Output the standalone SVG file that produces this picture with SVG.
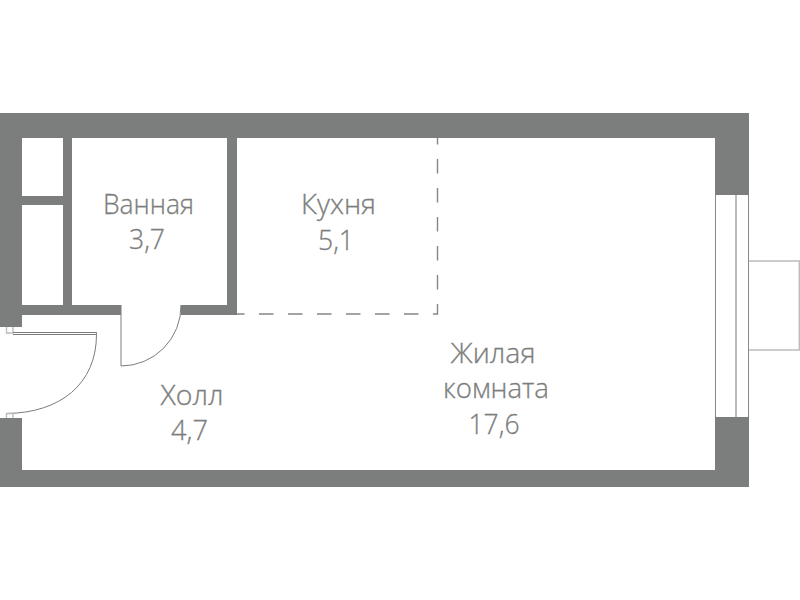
<svg xmlns="http://www.w3.org/2000/svg" width="800" height="600" viewBox="0 0 800 600">
<style>
.w{fill:#7c7e7d}
.l{fill:none;stroke:#7c7c7c;stroke-width:1}
.g{fill:none;stroke:#bcbcbc;stroke-width:1.4}
.t{font-family:"Open Sans","Liberation Sans",sans-serif;font-size:27.5px;fill:#7c7e7d;text-anchor:middle;font-weight:300;stroke:#7c7e7d;stroke-width:.3}
</style>
<rect width="800" height="600" fill="#fff"/>
<g id="walls">
<rect class="w" x="0" y="113" width="749" height="25"/>
<rect class="w" x="0" y="113" width="22" height="214"/>
<rect class="w" x="0" y="418" width="22" height="69"/>
<rect class="w" x="0" y="470" width="749" height="17"/>
<rect class="w" x="715" y="113" width="34" height="82"/>
<rect class="w" x="715" y="417" width="34" height="70"/>
<rect class="w" x="63" y="138" width="9" height="170"/>
<rect class="w" x="22" y="196" width="41" height="9"/>
<rect class="w" x="22" y="305" width="99" height="10"/>
<rect class="w" x="181" y="305" width="56" height="10"/>
<rect class="w" x="227" y="138" width="10" height="177"/>
</g>
<g id="kitchen-border">
<path d="M437.500 138V314H237" fill="none" stroke="#858585" stroke-width="1.4" stroke-dasharray="14.500 14.500" stroke-dashoffset="8"/>
</g>
<g id="bath-door">
<path class="l" d="M121 305V366A60 60 0 0 0 181 305"/>
</g>
<g id="entrance-door">
<path class="g" d="M6.500 327V333H13V327"/>
<path class="l" d="M13 332.500H96.500V334.500H13"/>
<path class="l" d="M96.500 334.500C96.500 384 60 413 6.500 413.500"/>
<path class="g" d="M6.500 418V413.500H13V418"/>
</g>
<g id="window">
<path d="M715.500 195V417M748.500 195V417" fill="none" stroke="#8a8a8a" stroke-width="1"/>
<path d="M736 195V417" fill="none" stroke="#bcbcbc" stroke-width="2"/>
</g>
<g id="balcony">
<path class="g" d="M749 261H799.300V350H749"/>
</g>
<g id="bath"><text class="t" x="148.500" y="214" textLength="91" lengthAdjust="spacingAndGlyphs">Ванная</text><text class="t" x="147" y="249" textLength="36" lengthAdjust="spacingAndGlyphs">3,7</text></g>
<g id="kitchen"><text class="t" x="338.500" y="214" textLength="75" lengthAdjust="spacingAndGlyphs">Кухня</text><text class="t" x="336" y="250" textLength="36" lengthAdjust="spacingAndGlyphs">5,1</text></g>
<g id="hall"><text class="t" x="192" y="405" textLength="63" lengthAdjust="spacingAndGlyphs">Холл</text><text class="t" x="189.500" y="440" textLength="37" lengthAdjust="spacingAndGlyphs">4,7</text></g>
<g id="living"><text class="t" x="493" y="363" textLength="85" lengthAdjust="spacingAndGlyphs">Жилая</text><text class="t" x="496" y="398" textLength="106" lengthAdjust="spacingAndGlyphs">комната</text><text class="t" x="494" y="434" textLength="51" lengthAdjust="spacingAndGlyphs">17,6</text></g>
</svg>
